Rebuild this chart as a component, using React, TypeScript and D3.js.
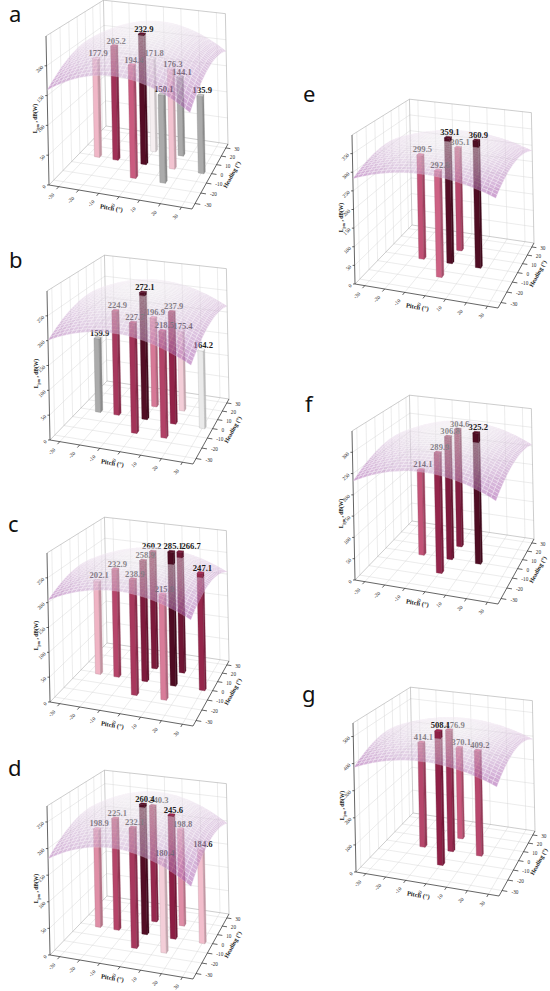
// @ts-nocheck
import * as d3 from "d3";

const PANEL_NAMES = ["a", "b", "c", "d", "e", "f", "g"];

// bar positions (pitch, heading) in degrees
const LEFT_PITCH = [-25, -15, 0, 0, 0, 15, 15, 15, 30];
const LEFT_HEADING = [0, 0, -15, 0, 15, -15, 0, 15, 0];
const RIGHT_PITCH = [-15, 0, 0, 0, 15];
const RIGHT_HEADING = [0, -15, 0, 15, 0];

// bar values per panel
const VALUES_A = [177.9, 205.2, 194.4, 232.9, 171.8, 150.1, 176.3, 144.1, 135.9];
const VALUES_B = [159.9, 224.9, 227.7, 272.1, 196.9, 218.5, 237.9, 175.4, 164.2];
const VALUES_C = [202.1, 232.9, 238.9, 258.9, 260.2, 215.9, 285.1, 266.7, 247.1];
const VALUES_D = [198.9, 225.1, 232.1, 260.4, 240.3, 180.4, 245.6, 198.8, 184.6];
const VALUES_E = [299.5, 292.6, 359.1, 305.1, 360.9];
const VALUES_F = [214.1, 289.9, 306.8, 304.6, 325.2];
const VALUES_G = [414.1, 508.1, 476.9, 370.1, 409.2];
const VALUES = [VALUES_A, VALUES_B, VALUES_C, VALUES_D, VALUES_E, VALUES_F, VALUES_G];

const Z_MAX = [250, 300, 300, 280, 400, 350, 550];
const Z_STEP = [50, 50, 50, 50, 50, 50, 100];

// fitted surface z = c + bp*p + bh*h - kp*p^2 - kh*h^2
const SURF_C = [231, 266, 266, 255, 350, 310, 490];
const SURF_BP = [-0.06, -0.15, 0, -0.2, 0, 0, 0];
const SURF_BH = [0.33, 0.33, 0, 0.4, 0, 0.3, 0];
const SURF_KP = [0.033, 0.03, 0.03, 0.035, 0.03, 0.035, 0.045];
const SURF_KH = [0.018, 0.018, 0.02, 0.02, 0.025, 0.02, 0.04];

// colour map stops (values) per panel
const COLOR_DOMAINS = [
  [150, 171, 177, 195, 210, 236],
  [160, 165, 180, 205, 240, 275],
  [150, 180, 200, 225, 250, 286],
  [150, 170, 185, 215, 245, 262],
  [200, 240, 270, 295, 330, 362],
  [100, 150, 180, 205, 300, 326],
  [250, 300, 330, 370, 510, 600],
];
const BAR_COLORS = ["#ababab", "#f6f6f6", "#f2bccb", "#c9587c", "#8e1f45", "#4d0c22"];

const ANGLE_TICKS = [-30, -20, -10, 0, 10, 20, 30];
const ANGLE_MIN = -35;
const ANGLE_MAX = 35;

// layout
const ORIGINS = [[49, 185], [50, 440], [50, 702], [50, 955], [355, 284], [355, 580], [356, 872]];
const LETTER_POS = [[9, 22], [9, 268], [8, 532], [8, 776], [303, 102], [305, 412], [302, 702]];
const FLOOR_F = [143, 24];
const FLOOR_R = [179, -41];
const FLOOR_B = [57, -59];
const VERT = [-3, -149];
const BAR_HALF = 1.4;
const GRID_N = 30;
// small horizontal nudges for crowded value labels (panel letter + bar index)
const LABEL_NUDGE = { c4: -3, c7: 9, d4: 4, g2: 4 };

// square -> floor quad homography
const HOM = (() => {
  const [x1, y1] = FLOOR_F, [x2, y2] = FLOOR_R, [x3, y3] = FLOOR_B;
  const dx1 = x1 - x2, dy1 = y1 - y2, dx2 = x3 - x2, dy2 = y3 - y2;
  const sx = -x1 + x2 - x3, sy = -y1 + y2 - y3;
  const det = dx1 * dy2 - dx2 * dy1;
  const g = (sx * dy2 - dx2 * sy) / det;
  const h = (dx1 * sy - sx * dy1) / det;
  return { a: x1 + g * x1, b: x3 + h * x3, d: y1 + g * y1, e: y3 + h * y3, g, h };
})();

const pathOf = (pts) => "M" + pts.map((p) => p[0].toFixed(2) + "," + p[1].toFixed(2)).join("L") + "Z";
const lineOf = (a, b) => `M${a[0].toFixed(2)},${a[1].toFixed(2)}L${b[0].toFixed(2)},${b[1].toFixed(2)}`;

const SERIF = "'Liberation Serif', 'Times New Roman', serif";

function Panel({ i }) {
  const [ox, oy] = ORIGINS[i];
  const left = i < 4;
  const pitch = left ? LEFT_PITCH : RIGHT_PITCH;
  const heading = left ? LEFT_HEADING : RIGHT_HEADING;
  const values = VALUES[i];
  const zMax = Z_MAX[i];

  const uS = d3.scaleLinear().domain([ANGLE_MIN, ANGLE_MAX]).range([0, 1]);
  const vS = d3.scaleLinear().domain([ANGLE_MIN, ANGLE_MAX]).range([0, 1]);
  const wS = d3.scaleLinear().domain([0, zMax]).range([0, 1]);

  const proj = (p, h, z) => {
    const u = uS(p), v = vS(h), w = wS(z);
    const den = HOM.g * u + HOM.h * v + 1;
    return [ox + (HOM.a * u + HOM.b * v + VERT[0] * w) / den, oy + (HOM.d * u + HOM.e * v + VERT[1] * w) / den];
  };
  const depth = (p, h, z) => vS(h) - 0.13 * uS(p) - 0.35 * wS(z);
  const surf = (p, h) =>
    Math.max(0, Math.min(zMax, SURF_C[i] + SURF_BP[i] * p + SURF_BH[i] * h - SURF_KP[i] * p * p - SURF_KH[i] * h * h));

  const color = d3.scaleLinear().domain(COLOR_DOMAINS[i]).range(BAR_COLORS).clamp(true);
  const zTicks = d3.range(0, zMax, Z_STEP[i]);
  const lo = ANGLE_MIN, hi = ANGLE_MAX;

  // ----- box grid
  const grid = [];
  ANGLE_TICKS.forEach((t) => {
    grid.push(lineOf(proj(t, lo, 0), proj(t, hi, 0)));
    grid.push(lineOf(proj(lo, t, 0), proj(hi, t, 0)));
    grid.push(lineOf(proj(lo, t, 0), proj(lo, t, zMax)));
    grid.push(lineOf(proj(t, hi, 0), proj(t, hi, zMax)));
  });
  zTicks.slice(1).forEach((z) => {
    grid.push(lineOf(proj(lo, lo, z), proj(lo, hi, z)));
    grid.push(lineOf(proj(lo, hi, z), proj(hi, hi, z)));
  });
  const edges = [
    lineOf(proj(lo, lo, 0), proj(lo, hi, 0)),
    lineOf(proj(lo, hi, 0), proj(hi, hi, 0)),
    lineOf(proj(lo, hi, 0), proj(lo, hi, zMax)),
    lineOf(proj(hi, hi, 0), proj(hi, hi, zMax)),
    lineOf(proj(lo, lo, zMax), proj(lo, hi, zMax)),
    lineOf(proj(lo, hi, zMax), proj(hi, hi, zMax)),
  ];
  const L = proj(lo, lo, 0), Lt = proj(lo, lo, zMax), F = proj(hi, lo, 0), R = proj(hi, hi, 0);

  // ----- bars
  const bars = values
    .map((val, k) => ({ k, p: pitch[k], h: heading[k], val, zs: surf(pitch[k], heading[k]) }))
    .sort((A, B) => depth(B.p, B.h, 0) - depth(A.p, A.h, 0));

  const barFaces = (b, z0, z1, top, key) => {
    const s = BAR_HALF;
    const base = color(b.val);
    const stroke = d3.color(base).darker(0.7).formatHex();
    const front = [proj(b.p - s, b.h - s, z0), proj(b.p + s, b.h - s, z0), proj(b.p + s, b.h - s, z1), proj(b.p - s, b.h - s, z1)];
    const side = [proj(b.p + s, b.h - s, z0), proj(b.p + s, b.h + s, z0), proj(b.p + s, b.h + s, z1), proj(b.p + s, b.h - s, z1)];
    const out = [
      <path key={key + "f"} d={pathOf(front)} fill={base} stroke={stroke} strokeWidth={0.35} />,
      <path key={key + "s"} d={pathOf(side)} fill={d3.color(base).darker(0.6).formatHex()} stroke={stroke} strokeWidth={0.35} />,
    ];
    if (top) {
      const tp = [proj(b.p - s, b.h - s, z1), proj(b.p + s, b.h - s, z1), proj(b.p + s, b.h + s, z1), proj(b.p - s, b.h + s, z1)];
      out.push(<path key={key + "t"} d={pathOf(tp)} fill={d3.color(base).brighter(0.4).formatHex()} stroke={stroke} strokeWidth={0.35} />);
    }
    return out;
  };

  const label = (b) => {
    const [x, y] = proj(b.p, b.h, b.val);
    const dx = LABEL_NUDGE[PANEL_NAMES[i] + b.k] || 0;
    return (
      <text key={"l" + b.k} x={x + 2 + dx} y={y - 2} textAnchor="middle" fontFamily={SERIF} fontWeight="bold" fontSize={8.6} fill="#1c1c1c">
        {b.val.toFixed(1)}
      </text>
    );
  };

  const lowerBars = bars.flatMap((b) => barFaces(b, 0, Math.min(b.val, b.zs), b.val <= b.zs, "lo" + b.k));
  const lowerLabels = bars.filter((b) => b.val <= b.zs).map(label);
  const upperBars = bars.filter((b) => b.val > b.zs).flatMap((b) => barFaces(b, b.zs, b.val, true, "up" + b.k));
  const upperLabels = bars.filter((b) => b.val > b.zs).map(label);

  // ----- surface
  const steps = d3.range(GRID_N + 1).map((j) => lo + ((hi - lo) * j) / GRID_N);
  const quads = [];
  let zmin = Infinity, zmaxS = -Infinity;
  for (let a = 0; a < GRID_N; a++) {
    for (let c = 0; c < GRID_N; c++) {
      const p0 = steps[a], p1 = steps[a + 1], h0 = steps[c], h1 = steps[c + 1];
      const zz = [surf(p0, h0), surf(p1, h0), surf(p1, h1), surf(p0, h1)];
      const zm = d3.mean(zz);
      zmin = Math.min(zmin, zm);
      zmaxS = Math.max(zmaxS, zm);
      quads.push({
        key: a + "-" + c,
        zm,
        dep: depth((p0 + p1) / 2, (h0 + h1) / 2, zm),
        pts: [proj(p0, h0, zz[0]), proj(p1, h0, zz[1]), proj(p1, h1, zz[2]), proj(p0, h1, zz[3])],
      });
    }
  }
  quads.sort((A, B) => B.dep - A.dep);
  const surfColor = d3.scaleLinear().domain([zmin, (zmin + zmaxS) / 2, zmaxS]).range(["#a85aae", "#c9a6cf", "#e6e3e8"]);

  // ----- axes text
  const pitchAngle = (Math.atan2(F[1] - L[1], F[0] - L[0]) * 180) / Math.PI;
  const headAngle = (Math.atan2(R[1] - F[1], R[0] - F[0]) * 180) / Math.PI;
  const pMid = proj(0, lo, 0);
  const hMid = proj(hi, 0, 0);
  const zMidY = (L[1] + Lt[1]) / 2 + 8;
  const [lx, ly] = LETTER_POS[i];

  return (
    <g>
      <text x={lx} y={ly} fontFamily="'Noto Sans', 'DejaVu Sans', sans-serif" fontSize={22} fill="#111">
        {PANEL_NAMES[i]}
      </text>
      <g fill="none" stroke="#d4d4d4" strokeWidth={0.45}>
        {grid.map((d, k) => (
          <path key={k} d={d} />
        ))}
      </g>
      <g fill="none" stroke="#9a9a9a" strokeWidth={0.5}>
        {edges.map((d, k) => (
          <path key={k} d={d} />
        ))}
      </g>
      {/* axes */}
      <g fill="none" stroke="#222" strokeWidth={0.7}>
        <path d={lineOf(L, Lt)} />
        <path d={lineOf(L, F)} />
        <path d={lineOf(F, R)} />
        {ANGLE_TICKS.map((t) => (
          <path key={"pt" + t} d={lineOf(proj(t, lo, 0), proj(t, lo - 2.5, 0))} />
        ))}
        {ANGLE_TICKS.map((t) => (
          <path key={"ht" + t} d={lineOf(proj(hi, t, 0), proj(hi + 2.5, t, 0))} />
        ))}
        {zTicks.map((z) => {
          const q = proj(lo, lo, z);
          return <path key={"zt" + z} d={lineOf([q[0] - 2, q[1]], q)} />;
        })}
      </g>
      <g fontFamily={SERIF} fontSize={5.2} fill="#2a2a2a">
        {ANGLE_TICKS.map((t) => {
          const q = proj(t, lo - 4, 0);
          return (
            <text key={"pl" + t} transform={`translate(${q[0] - 0.5},${q[1] + 4.5}) rotate(-45)`} textAnchor="end">
              {t}
            </text>
          );
        })}
        {ANGLE_TICKS.map((t) => {
          const q = proj(hi + 4, t, 0);
          return (
            <text key={"hl" + t} x={q[0] + 1} y={q[1] + 1.8} textAnchor="start">
              {t}
            </text>
          );
        })}
        {zTicks.map((z) => {
          const q = proj(lo, lo, z);
          return (
            <text key={"zl" + z} transform={`translate(${q[0] - 3},${q[1] + 1.8}) rotate(-45)`} textAnchor="end">
              {z}
            </text>
          );
        })}
      </g>
      <text
        transform={`translate(${pMid[0] - 8},${pMid[1] + 13.5}) rotate(${pitchAngle})`}
        textAnchor="middle"
        fontFamily={SERIF}
        fontWeight="bold"
        fontSize={6.5}
        fill="#222"
      >
        Pitch (°)
      </text>
      <text
        transform={`translate(${hMid[0] + 22},${hMid[1] + 2}) rotate(${headAngle})`}
        textAnchor="middle"
        fontFamily={SERIF}
        fontWeight="bold"
        fontSize={6}
        fill="#222"
      >
        Heading (°)
      </text>
      <text
        transform={`translate(${L[0] - 12},${zMidY}) rotate(-90)`}
        textAnchor="middle"
        fontFamily={SERIF}
        fontWeight="bold"
        fontSize={5.5}
        fill="#222"
      >
        L<tspan fontSize={4} dy={1.5}>pm</tspan>
        <tspan dy={-1.5}> , dB(W)</tspan>
      </text>
      {/* bars under the surface */}
      {lowerBars}
      {lowerLabels}
      {/* translucent surface */}
      <g opacity={0.55}>
        {quads.map((q) => (
          <path key={q.key} d={pathOf(q.pts)} fill={surfColor(q.zm)} stroke="#f7f3f8" strokeWidth={0.3} />
        ))}
      </g>
      {/* bar parts above the surface */}
      {upperBars}
      {upperLabels}
    </g>
  );
}

export default function App() {
  return (
    <svg width={550} height={991} style={{ position: "absolute", left: 0, top: 0, background: "#fff" }}>
      <rect width={550} height={991} fill="#fff" />
      {PANEL_NAMES.map((n, i) => (
        <Panel key={n} i={i} />
      ))}
    </svg>
  );
}
